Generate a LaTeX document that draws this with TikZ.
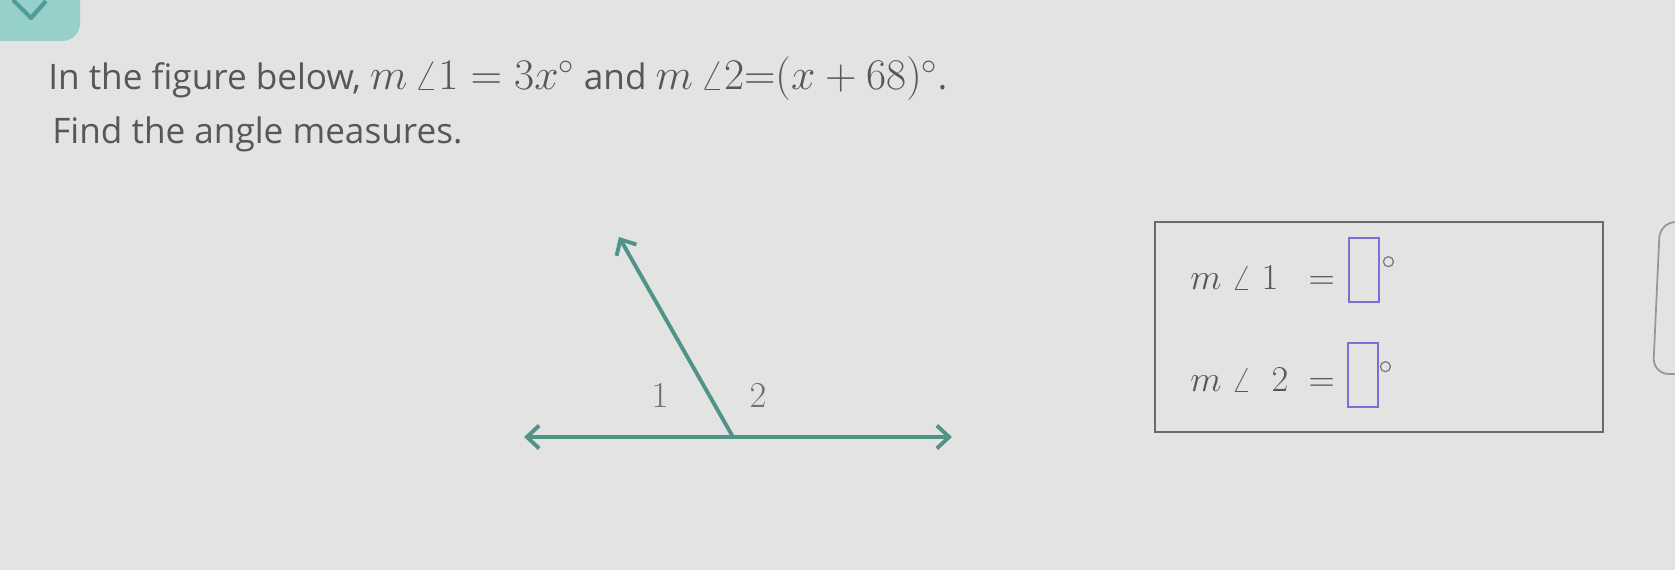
\documentclass[tikz,border=0pt]{standalone}
\usepackage{fontspec}
\setmainfont{Open Sans}
\usepackage{amsmath}
\usetikzlibrary{positioning,arrows.meta}

\definecolor{bggray}{HTML}{E3E3E1}
\definecolor{txtgray}{HTML}{575757}
\definecolor{rayteal}{HTML}{4F9389}
\definecolor{tabteal}{HTML}{97CFCB}
\definecolor{chevteal}{HTML}{4E9E98}
\definecolor{boxpurple}{HTML}{7A70D4}
\definecolor{framegray}{HTML}{6A6A6A}

\newcommand{\mth}[1]{{\fontsize{24}{26}\selectfont$#1$}}

\begin{document}
\begin{tikzpicture}[x=0.2mm, y=-0.2mm,
  prompt/.style={anchor=base west, inner sep=0, text=txtgray, font=\fontsize{20}{24}\selectfont},
  raytip/.style={line width=2.2pt, draw=rayteal, {Straight Barb[length=7pt, width=13pt]}-{Straight Barb[length=7pt, width=13pt]}},
  anglabel/.style={text=txtgray!85, font=\fontsize{22}{24}\selectfont},
  answerrow/.style={anchor=base west, inner sep=0, text=txtgray, font=\fontsize{20}{24}\selectfont},
  blank/.style={draw=boxpurple, line width=1.3pt, minimum width=6mm, minimum height=12.8mm, inner sep=0},
  degsign/.style={draw=txtgray!80, line width=0.7pt, circle, minimum size=2mm, inner sep=0}]

% background and frame of the page
\fill[bggray] (0,0) rectangle (1675,570);
\useasboundingbox (0,0) rectangle (1675,570);

%Tab at the corner
\fill[tabteal, rounded corners=10pt] (-40,-40) rectangle (80,41);
\draw[chevteal, line width=2.4pt, line join=round] (13,0) -- (31,18) -- (46,1);

%Question text
\node[prompt] (intro) at (48,90) {In the figure below, \mth{m\,\angle 1=3x^{\circ}} and \mth{m\,\angle 2{=}(x+68)^{\circ}}.};
\node[prompt] (task) at (52,144) {Find the angle measures.};

%Figure
\coordinate (vtx) at (733,437);
\coordinate (lft) at (524,437);
\coordinate (rgt) at (952,437);
\coordinate (tip) at (619,237);
\draw[raytip] (lft) -- (rgt);
\draw[line width=2.2pt, draw=rayteal, -{Straight Barb[length=7pt, width=13pt]}] (vtx) -- (tip);
\node[anglabel] (lblone) at (660,396) {$1$};
\node[anglabel] (lbltwo) at (758,396) {$2$};

%Answer box
\node[draw=framegray, line width=1.3pt, minimum width=89.6mm, minimum height=42mm, inner sep=0] (ansbox) at (1379,327) {};
\node[answerrow] (rowone) at (1190,290) {$m\;\angle\;1\;\;=$};
\node[answerrow] (rowtwo) at (1190,392) {$m\;\angle\;\;2\;=$};
\node[blank] (blankone) [right=2.6mm of rowone.base east, anchor=south west, yshift=-2.6mm] {};
\node[blank] (blanktwo) [right=2.4mm of rowtwo.base east, anchor=south west, yshift=-3.2mm] {};
\node[degsign] (degone) [right=0.8mm of blankone.north east, anchor=north west, yshift=-4.2mm] {};
\node[degsign] (degtwo) [right=0.4mm of blanktwo.north east, anchor=north west, yshift=-4.2mm] {};

%Edge of the next panel
\draw[framegray!70, line width=1pt, rounded corners=9pt] (1720,222) -- (1660,222) -- (1653,374) -- (1720,374);

\end{tikzpicture}
\end{document}
